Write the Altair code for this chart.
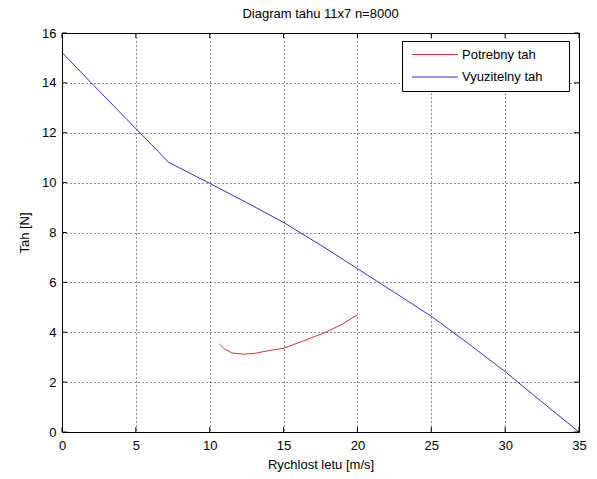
import altair as alt
import pandas as pd

# ---- data ----
series_names = ["Potrebny tah", "Vyuzitelny tah"]
series_colors = ["#d8343c", "#3030c8"]

req_speed = [10.66, 11.0, 11.5, 12.3, 13.0, 13.9, 15.0, 16.2, 17.85, 19.0, 20.0]
req_thrust = [3.53, 3.33, 3.17, 3.12, 3.15, 3.25, 3.36, 3.62, 4.0, 4.33, 4.7]

avail_speed = [0, 1.9, 4.2, 6.5, 7.2, 10.0, 12.5, 15.0, 17.5, 20.0, 22.5, 25.0, 27.5, 30.0, 32.5, 35.0]
avail_thrust = [15.22, 14.05, 12.65, 11.26, 10.82, 9.97, 9.2, 8.4, 7.5, 6.55, 5.6, 4.64, 3.55, 2.42, 1.2, 0.0]

x_ticks = [0, 5, 10, 15, 20, 25, 30, 35]
y_ticks = [0, 2, 4, 6, 8, 10, 12, 14, 16]

title_text = "Diagram tahu 11x7 n=8000"
x_title = "Rychlost letu [m/s]"
y_title = "Tah [N]"

# ---- build tables ----
rows = []
for i, (s, t) in enumerate(zip(req_speed, req_thrust)):
    rows.append({"series": series_names[0], "speed": s, "thrust": t, "idx": i})
for i, (s, t) in enumerate(zip(avail_speed, avail_thrust)):
    rows.append({"series": series_names[1], "speed": s, "thrust": t, "idx": i})
df = pd.DataFrame(rows)

W, H = 517, 399
FONT = "Liberation Sans"

x_scale = alt.Scale(domain=[0, 35], nice=False, zero=False)
y_scale = alt.Scale(domain=[0, 16], nice=False, zero=False)
x_axis = alt.Axis(values=x_ticks, title=x_title, grid=True, ticks=False, domain=False,
                  labelPadding=7, titlePadding=6, format="d", labelFlush=False, labelOverlap=False)
y_axis = alt.Axis(values=y_ticks, title=y_title, grid=True, ticks=False, domain=False,
                  labelPadding=6, titlePadding=10, format="d", labelFlush=False, labelOverlap=False)


def xe(field="speed:Q"):
    return alt.X(field, scale=x_scale, axis=x_axis)


def ye(field="thrust:Q"):
    return alt.Y(field, scale=y_scale, axis=y_axis)


lines = alt.Chart(df).mark_line(strokeWidth=1).encode(
    x=xe(), y=ye(),
    color=alt.Color("series:N", scale=alt.Scale(domain=series_names, range=series_colors), legend=None),
    detail="series:N",
    order="idx:Q",
)

xt = pd.DataFrame({"speed": x_ticks})
yt = pd.DataFrame({"thrust": y_ticks})
tick_layers = [
    alt.Chart(xt).mark_rule(color="black", strokeWidth=1).encode(x=xe(), y=alt.value(H), y2=alt.value(H - 5)),
    alt.Chart(xt).mark_rule(color="black", strokeWidth=1).encode(x=xe(), y=alt.value(0), y2=alt.value(5)),
    alt.Chart(yt).mark_rule(color="black", strokeWidth=1).encode(y=ye(), x=alt.value(0), x2=alt.value(5)),
    alt.Chart(yt).mark_rule(color="black", strokeWidth=1).encode(y=ye(), x=alt.value(W), x2=alt.value(W - 5)),
]

# manual legend box (MATLAB style)
legend_layers = [
    alt.Chart(pd.DataFrame({"a": [0]})).mark_rect(fill="white", stroke="black", strokeWidth=1).encode(
        x=alt.value(340.5), x2=alt.value(507.5), y=alt.value(8.5), y2=alt.value(58.5))
]
for i, (name, col) in enumerate(zip(series_names, series_colors)):
    yy = 21.5 + i * 22.5
    d = pd.DataFrame({"series": [name]})
    legend_layers.append(
        alt.Chart(d).mark_rule(color=col, strokeWidth=1).encode(
            x=alt.value(350), x2=alt.value(396), y=alt.value(yy)))
    legend_layers.append(
        alt.Chart(d).mark_text(align="left", baseline="middle", fontSize=13, font=FONT, color="black").encode(
            x=alt.value(400), y=alt.value(yy), text="series:N"))

chart = alt.layer(lines, *tick_layers, *legend_layers).properties(
    width=W, height=H,
    title=alt.TitleParams(title_text, fontSize=13, font=FONT, fontWeight="normal", color="black",
                          anchor="middle", offset=6),
    autosize=alt.AutoSizeParams(type="none"),
    padding={"left": 62, "top": 33, "right": 18, "bottom": 47},
    background="white",
).configure_view(stroke="black", strokeWidth=1).configure_axis(
    gridDash=[1, 3], gridColor="black", gridOpacity=0.9, gridWidth=1,
    labelFont=FONT, labelFontSize=13, labelColor="black",
    titleFont=FONT, titleFontSize=13, titleFontWeight="normal", titleColor="black",
)

chart.save("out.html", embed_options={"renderer": "svg", "actions": False})
